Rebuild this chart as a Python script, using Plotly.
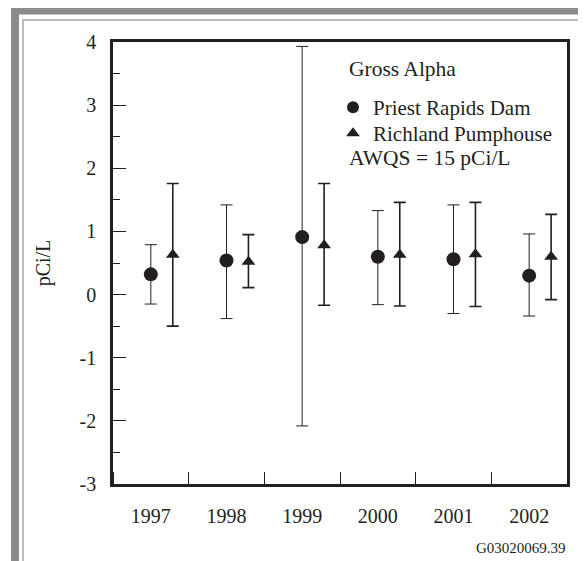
import numpy as np
import plotly.graph_objects as go

# data (pCi/L)
years = [1997, 1998, 1999, 2000, 2001, 2002]

priest_val = [0.32, 0.54, 0.91, 0.60, 0.56, 0.30]
priest_hi = [0.79, 1.42, 3.93, 1.33, 1.42, 0.96]
priest_lo = [-0.15, -0.38, -2.08, -0.16, -0.30, -0.34]

richland_val = [0.63, 0.52, 0.78, 0.63, 0.64, 0.60]
richland_hi = [1.76, 0.95, 1.76, 1.46, 1.46, 1.27]
richland_lo = [-0.50, 0.11, -0.17, -0.18, -0.19, -0.08]

y_ticks = [-3, -2, -1, 0, 1, 2, 3, 4]
y_labels = ["-3", "-2", "-1", "0", "1", "2", "3", "4"]

offset = 0.29  # richland marker sits to the right of the year centre

FONT = "Liberation Serif, Times New Roman, serif"
INK = "#231f20"
GRAY = "#8a8b8d"

pv, ph, pl = np.array(priest_val), np.array(priest_hi), np.array(priest_lo)
rv, rh, rl = np.array(richland_val), np.array(richland_hi), np.array(richland_lo)

fig = go.Figure()
fig.add_trace(go.Scatter(
	x=years, y=pv, mode="markers", name="Priest Rapids Dam", legend="legend",
	marker=dict(symbol="circle", size=14, color=INK),
	error_y=dict(type="data", symmetric=False, array=ph - pv, arrayminus=pv - pl,
				 color=INK, thickness=1, width=6),
))
fig.add_trace(go.Scatter(
	x=[y + offset for y in years], y=rv, mode="markers", name="Richland Pumphouse", legend="legend2",
	marker=dict(symbol="triangle-up", size=12, color=INK),
	error_y=dict(type="data", symmetric=False, array=rh - rv, arrayminus=rv - rl,
				 color=INK, thickness=1.6, width=6),
))

# the page adds an 8px body margin, so the figure is 8px smaller than the window
W, H = 578, 553
# plot area in page pixels: x 113..567, y 42..484
L, R, T, B = 113, 567, 42, 484
def px(x): return (x - L) / (R - L)
def py(y): return (B - y) / (B - T)

shapes = [
	dict(type="rect", xref="paper", yref="paper", x0=px(15), x1=px(600), y0=py(10.5), y1=py(600),
		 line=dict(color=GRAY, width=8), fillcolor="rgba(0,0,0,0)", layer="below"),
	dict(type="rect", xref="paper", yref="paper", x0=px(23), x1=px(579), y0=py(20), y1=py(600),
		 line=dict(color="#a7a8aa", width=1.5), fillcolor="rgba(0,0,0,0)", layer="below"),
]

txt = dict(family=FONT, size=21.5, color=INK)
annotations = [
	dict(text="Gross Alpha", xref="paper", yref="paper", x=px(347), y=py(69),
		 xanchor="left", yanchor="middle", showarrow=False, font=txt),
	dict(text="AWQS = 15 pCi/L", xref="paper", yref="paper", x=px(347), y=py(158),
		 xanchor="left", yanchor="middle", showarrow=False, font=txt),
	dict(text="G03020069.39", xref="paper", yref="paper", x=px(568), y=py(548),
		 xanchor="right", yanchor="middle", showarrow=False, font=dict(family=FONT, size=15, color=INK)),
]

leg = dict(xanchor="left", yanchor="top", bgcolor="rgba(0,0,0,0)",
		   font=dict(family=FONT, size=21, color=INK), itemsizing="constant")

fig.update_layout(
	width=W, height=H,
	margin=dict(l=L - 8, r=W + 8 - R, t=T - 8, b=H + 8 - B),
	paper_bgcolor="white", plot_bgcolor="white",
	font=dict(family=FONT, size=20, color=INK),
	showlegend=True,
	legend=dict(leg, x=px(333), y=py(87)),
	legend2=dict(leg, x=px(333), y=py(113)),
	shapes=shapes, annotations=annotations,
)
fig.update_xaxes(
	range=[1996.5, 2002.5], tickvals=years, ticks="", showgrid=False, zeroline=False,
	showline=True, mirror=True, linecolor=INK, linewidth=2.5,
	ticklabelstandoff=12, tickfont=dict(family=FONT, size=20, color=INK),
	minor=dict(tick0=1996.5, dtick=1, ticks="inside", ticklen=12, tickcolor=INK, tickwidth=1.2),
)
fig.update_yaxes(
	range=[-3, 4], tickvals=y_ticks, ticktext=y_labels, ticks="inside", ticklen=13,
	tickwidth=1.2, tickcolor=INK,
	showgrid=False, zeroline=False, showline=True, mirror=True, linecolor=INK, linewidth=2.5,
	ticklabelstandoff=10, tickfont=dict(family=FONT, size=20, color=INK),
	minor=dict(tick0=-3, dtick=0.5, ticks="inside", ticklen=7, tickcolor=INK, tickwidth=1.2),
	title=dict(text="pCi/L", standoff=24, font=dict(family=FONT, size=20, color=INK)),
)

fig.write_html("out.html")
